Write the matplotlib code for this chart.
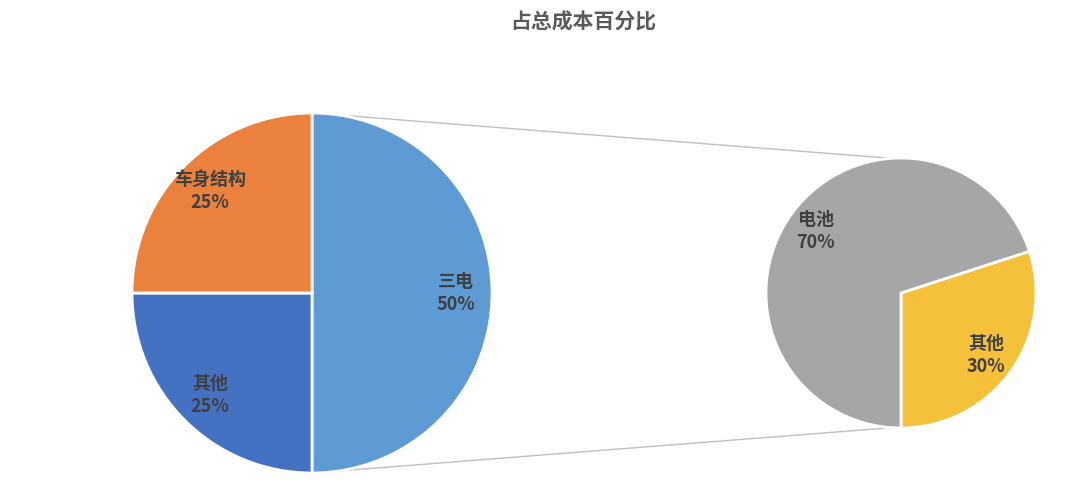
import numpy as np
import matplotlib
matplotlib.use("Agg")
import matplotlib.pyplot as plt

plt.rcParams['font.family'] = ['Noto Sans CJK SC', 'DejaVu Sans']

# main pie
main_labels = ['三电', '其他', '车身结构']
main_values = [50, 25, 25]
main_colors = ['#5E9AD4', '#4571C3', '#EA823D']

# secondary pie (breakdown of 三电)
sub_labels = ['其他', '电池']
sub_values = [30, 70]
sub_colors = ['#F5C03A', '#A6A6A6']

title = '占总成本百分比'

W, H = 1080, 503
fig = plt.figure(figsize=(W / 100, H / 100), dpi=100)
ax = fig.add_axes([0, 0, 1, 1])

c1, r1 = (312, 210), 180
c2, r2 = (901, 210), 135

wedge_kw = dict(edgecolor='white', linewidth=2)
text_kw = dict(color='#404040', fontsize=13, fontweight='bold',
               ha='center', va='center', linespacing=1.3)

w1, t1, a1 = ax.pie(main_values, colors=main_colors, startangle=90,
                    counterclock=False, center=c1, radius=r1,
                    autopct='%d%%', pctdistance=0.8,
                    wedgeprops=wedge_kw, textprops=text_kw, frame=True)
for name, t in zip(main_labels, a1):
    t.set_text(f"{name}\n{t.get_text()}")

w2, t2, a2 = ax.pie(sub_values, colors=sub_colors, startangle=-90,
                    counterclock=True, center=c2, radius=r2,
                    autopct='%d%%', pctdistance=0.78,
                    wedgeprops=wedge_kw, textprops=text_kw, frame=True)
for name, t in zip(sub_labels, a2):
    t.set_text(f"{name}\n{t.get_text()}")

ax.set_xlim(0, W)
ax.set_ylim(0, H)
ax.set_aspect('equal')
ax.axis('off')

# connector lines from the 三电 slice to the secondary pie
ang = np.deg2rad(94)
for s in (1, -1):
    x0, y0 = c1[0], c1[1] + s * r1
    x1 = c2[0] + r2 * np.cos(ang)
    y1 = c2[1] + s * r2 * np.sin(ang)
    ax.plot([x0, x1], [y0, y1], color='#BFBFBF', linewidth=1, zorder=0)

ax.text(583, H - 22, title, ha='center', va='center', fontsize=15,
        fontweight='bold', color='#595959')

fig.savefig('out.png', dpi=100)
